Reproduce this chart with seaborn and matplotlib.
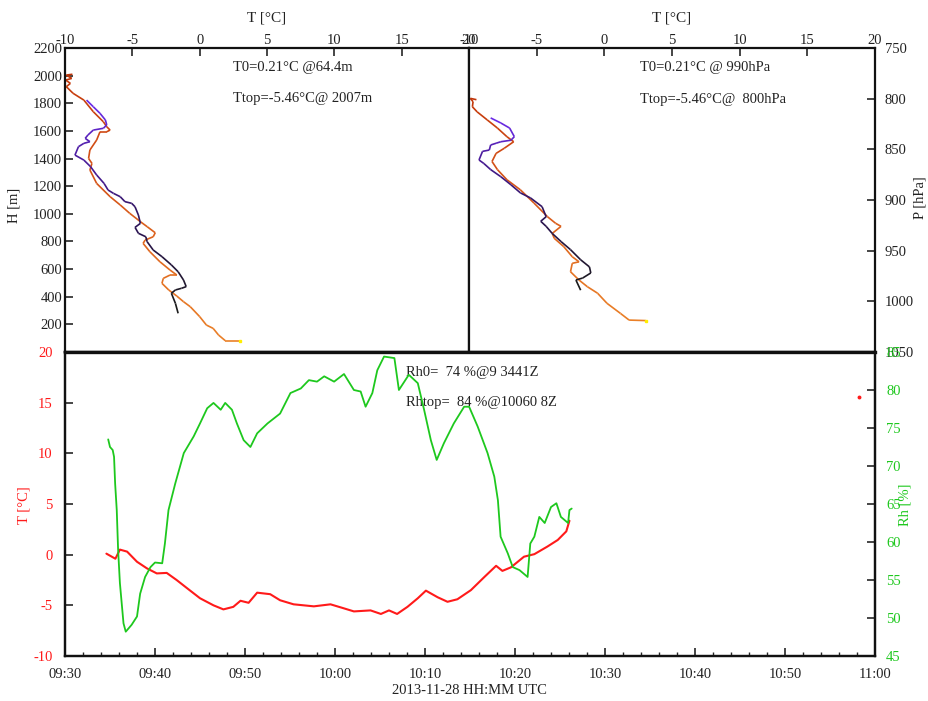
import numpy as np
import pandas as pd
import seaborn as sns
import matplotlib.pyplot as plt
from matplotlib.collections import LineCollection
from matplotlib.colors import LinearSegmentedColormap
from matplotlib.ticker import MultipleLocator

# ---- profile, height coordinates (bottom -> top)
up_T_h = [-1.6, -1.8, -2.1, -1.8, -1.35, -1.0, -1.2, -1.6, -2.1, -2.8, -3.45, -3.9, -4.0, -4.55, -4.8,
          -4.4, -4.55, -4.8, -5.05, -5.55, -5.9, -6.4, -6.8, -7.1, -7.65, -8.1, -8.6, -9.26, -9.0, -8.6,
          -8.15, -8.5, -8.3, -7.9, -7.15, -6.9, -7.0, -7.4, -7.9, -8.4]
up_H = [280, 352, 425, 449, 461, 473, 521, 581, 630, 690, 738, 798, 834, 859, 902,
        931, 991, 1051, 1076, 1088, 1124, 1148, 1172, 1220, 1281, 1341, 1389, 1425, 1486, 1510,
        1522, 1546, 1570, 1606, 1619, 1643, 1679, 1727, 1775, 1823]

dn_T_h = [3.0, 1.9, 1.4, 1.0, 0.5, 0.0, -0.7, -1.2, -1.7, -2.3, -2.8, -2.7, -2.2, -1.7, -2.2, -2.95,
          -3.7, -4.2, -4.05, -3.45, -3.3, -3.9, -4.4, -5.2, -5.9, -6.65, -7.65, -8.15, -8.0, -8.25,
          -8.15, -7.65, -7.4, -6.9, -6.65, -6.9, -7.15, -7.9, -8.6, -9.4, -9.9, -9.6, -9.95, -9.5,
          -9.9, -9.45]
dn_H = [82, 82, 123, 171, 195, 256, 328, 364, 405, 449, 497, 533, 557, 557, 593, 653,
        726, 786, 810, 834, 863, 907, 943, 1004, 1064, 1124, 1220, 1317, 1365, 1401,
        1462, 1534, 1594, 1594, 1606, 1630, 1666, 1739, 1823, 1872, 1920, 1944, 1968, 1980,
        2004, 2010]

# ---- profile, pressure coordinates
up_T_p = [-1.75, -2.1, -1.6, -1.0, -1.1, -1.75, -2.5, -3.2, -3.85, -4.3, -4.7, -4.3, -4.6, -5.45,
          -6.2, -6.9, -7.65, -8.4, -8.9, -9.26, -9.0, -8.5, -8.4, -8.0, -7.65, -6.9, -6.65, -7.0,
          -7.65, -8.4]
up_P = [989, 979, 977, 972, 966, 959, 949, 941, 933, 926, 921, 916.5, 906.6, 898,
        893, 885, 877, 870, 864, 860.5, 852, 850.7, 845.7, 844, 842.5, 841, 837.5, 829,
        824, 819]

dn_T_p = [3.06, 1.83, 1.2, 0.2, -0.5, -1.25, -1.87, -2.5, -2.37, -1.87, -2.37, -3.0, -3.7, -3.85,
          -3.2, -3.6, -4.2, -5.2, -6.2, -7.2, -7.9, -8.3, -8.0, -7.4, -6.7, -7.2, -7.9, -8.65,
          -9.4, -9.75, -9.7, -9.9, -9.45]
dn_P = [1019, 1018.5, 1012, 1002, 992, 985.6, 979, 970.8, 962.5, 961, 956, 946, 937.8, 933,
        926, 923, 916.5, 903, 890, 880, 870, 862, 854, 849, 842.5, 837.5, 829, 821,
        813, 808, 803, 799.7, 801]

# ---- time series (minutes after 09:30)
rh_t = [4.8, 5.0, 5.3, 5.45, 5.57, 5.75, 5.9, 6.1, 6.5, 6.75, 7.4, 8.0, 8.35, 8.9, 9.5, 10.0,
        10.8, 11.1, 11.5, 12.25, 13.2, 14.3, 15.0, 15.8, 16.5, 17.3, 17.8, 18.55, 19.1, 19.85,
        20.6, 21.35, 22.5, 23.9, 25.05, 26.2, 27.1, 28.0, 28.8, 29.9, 31.0, 32.1, 32.85, 33.4,
        34.15, 34.7, 35.45, 36.6, 37.1, 38.2, 39.2, 39.9, 40.65, 41.3, 42.1, 43.2, 44.35, 44.9,
        45.85, 46.95, 47.7, 48.1, 48.4, 49.2, 49.75, 50.5, 51.4, 51.7, 52.15, 52.7, 53.3, 54.0,
        54.6, 55.1, 55.9, 56.05, 56.3]
rh = [73.5, 72.5, 72.1, 71.2, 67.7, 64.2, 59.0, 54.6, 49.3, 48.2, 49.1, 50.2, 53.2, 55.4, 56.7, 57.3,
      57.2, 59.8, 64.2, 67.7, 71.7, 73.9, 75.6, 77.6, 78.3, 77.4, 78.3, 77.4, 75.6, 73.4,
      72.5, 74.3, 75.6, 76.9, 79.6, 80.2, 81.3, 81.1, 81.8, 81.1, 82.1, 80.0, 79.8, 77.8,
      79.6, 82.6, 84.4, 84.2, 80.0, 82.0, 80.9, 77.4, 73.4, 70.8, 73.0, 75.6, 77.8, 77.8,
      75.2, 71.7, 68.6, 65.5, 60.7, 58.5, 56.7, 56.3, 55.4, 59.8, 60.7, 63.3, 62.5, 64.6,
      65.1, 63.3, 62.5, 64.2, 64.4]

temp_t = [4.6, 5.6, 6.1, 6.9, 8.0, 9.1, 10.2, 11.3, 12.4, 13.55, 15.0, 16.5, 17.6, 18.7, 19.5,
          20.4, 21.35, 22.8, 23.9, 25.4, 27.65, 29.5, 31.0, 32.1, 33.95, 35.1, 36.0, 36.9, 38.05,
          39.2, 40.1, 41.4, 42.5, 43.6, 45.1, 46.6, 47.9, 48.6, 49.55, 51.0, 52.15, 53.6, 54.75,
          55.7, 56.05]
temp = [0.1, -0.4, 0.5, 0.3, -0.7, -1.35, -1.85, -1.8, -2.5, -3.3, -4.3, -5.0, -5.4, -5.15, -4.55,
        -4.75, -3.75, -3.9, -4.5, -4.9, -5.1, -4.9, -5.3, -5.6, -5.5, -5.85, -5.5, -5.85, -5.15,
        -4.3, -3.55, -4.2, -4.65, -4.4, -3.5, -2.2, -1.1, -1.6, -1.25, -0.2, 0.05, 0.8, 1.45,
        2.3, 3.35]
stray_t = [88.2]
stray_T = [15.6]

time_labels = ['09:30', '09:40', '09:50', '10:00', '10:10', '10:20', '10:30', '10:40', '10:50', '11:00']

sns.set_style('ticks')
plt.rcParams['font.family'] = ['Liberation Serif', 'DejaVu Serif']
plt.rcParams['axes.linewidth'] = 1.6
plt.rcParams['axes.unicode_minus'] = False

W, H = 929, 701
fig = plt.figure(figsize=(W / 100, H / 100), dpi=100)
ax1 = fig.add_axes([65 / W, 1 - 352 / H, (469 - 65) / W, (352 - 48) / H])
ax2 = fig.add_axes([469 / W, 1 - 352 / H, (875 - 469) / W, (352 - 48) / H])
ax3 = fig.add_axes([65 / W, 1 - 656 / H, (875 - 65) / W, (656 - 352) / H])
ax4 = ax3.twinx()

fs = 10.5
txt = '#222222'
red = '#ff1a1a'
green = '#1ec81e'


def gradient_line(ax, x, y, colors, lw=1.2):
    pts = np.column_stack([x, y]).reshape(-1, 1, 2)
    segs = np.concatenate([pts[:-1], pts[1:]], axis=1)
    cmap = LinearSegmentedColormap.from_list('g', colors)
    lc = LineCollection(segs, cmap=cmap, linewidth=lw)
    lc.set_array(np.linspace(0, 1, len(segs)))
    ax.add_collection(lc)


purple = ['#1a1a1a', '#2a1450', '#4a1c9a', '#6a2ae6']
orange = ['#ea8028', '#e06a20', '#d24e16', '#c03408']

for ax, ut, uy, dt, dy in [(ax1, up_T_h, up_H, dn_T_h, dn_H), (ax2, up_T_p, up_P, dn_T_p, dn_P)]:
    gradient_line(ax, dt, dy, orange)
    gradient_line(ax, ut, uy, purple)
    ax.plot(dt[:1], dy[:1], marker='s', ms=2, color='#ffee00', ls='none')
    ax.set_xlim(-10, 20)
    ax.xaxis.set_major_locator(MultipleLocator(5))
    ax.tick_params(axis='x', direction='in', top=True, bottom=False, labeltop=True,
                   labelbottom=False, length=6, width=1.2, pad=0.5, labelsize=fs, labelcolor=txt)
    ax.set_xlabel('')
    ax.set_ylabel('')

ax1.set_ylim(0, 2200)
ax1.set_yticks(range(200, 2201, 200))
ax1.tick_params(axis='y', direction='in', left=True, right=False, length=6, width=1.2,
                pad=2, labelsize=fs, labelcolor=txt)

ax2.set_ylim(1050, 750)
ax2.set_yticks(range(750, 1051, 50))
ax2.yaxis.tick_right()
ax2.tick_params(axis='y', direction='in', left=False, right=True, labelleft=False, labelright=True,
                length=6, width=1.2, pad=7, labelsize=fs, labelcolor=txt)

# ---- bottom time series
ts_T = pd.DataFrame({'t': temp_t, 'T': temp})
ts_rh = pd.DataFrame({'t': rh_t, 'rh': rh})
sns.lineplot(data=ts_T, x='t', y='T', ax=ax3, color=red, lw=1.5, estimator=None)
sns.lineplot(data=ts_rh, x='t', y='rh', ax=ax4, color=green, lw=1.3, estimator=None)
ax3.plot(stray_t, stray_T, marker='o', ms=1.8, color=red, ls='none')

ax3.set_xlim(0, 90)
ax3.set_ylim(-10, 20)
ax4.set_ylim(45, 85)
ax3.set_xticks(range(0, 91, 10))
ax3.set_xticklabels(time_labels)
ax3.xaxis.set_minor_locator(MultipleLocator(2))
ax3.set_yticks(range(-10, 21, 5))
ax4.set_yticks(range(45, 86, 5))
ax3.set_xlabel('')
ax3.set_ylabel('')
ax4.set_ylabel('')
ax3.tick_params(axis='x', which='major', direction='in', length=6, width=1.2, pad=9,
                labelsize=fs, labelcolor=txt)
ax3.tick_params(axis='x', which='minor', direction='in', length=3, width=1.0)
ax3.tick_params(axis='y', direction='in', length=6, width=1.2, pad=9, labelsize=fs, labelcolor=red)
ax4.tick_params(axis='y', direction='in', length=6, width=1.2, pad=8, labelsize=fs, labelcolor=green)

for ax in (ax1, ax2, ax3, ax4):
    for s in ax.spines.values():
        s.set_visible(True)
        s.set_linewidth(1.6)
        s.set_color('#111111')
ax3.spines['top'].set_linewidth(2.4)

# ---- annotations
ax1.text(2.5, 2062, 'T0=0.21°C @64.4m', fontsize=fs, color=txt, va='center')
ax1.text(2.5, 1831, 'Ttop=-5.46°C@ 2007m', fontsize=fs, color=txt, va='center')
ax2.text(2.6, 769, 'T0=0.21°C @ 990hPa', fontsize=fs, color=txt, va='center')
ax2.text(2.6, 800.5, 'Ttop=-5.46°C@  800hPa', fontsize=fs, color=txt, va='center')
ax3.text(37.9, 18.0, 'Rh0=  74 %@9 3441Z', fontsize=fs, color=txt, va='center')
ax3.text(37.9, 15.0, 'Rhtop=  84 %@10060 8Z', fontsize=fs, color=txt, va='center')

fig.text(267 / W, 1 - 18 / H, 'T [°C]', fontsize=fs + 0.5, color=txt, ha='center', va='center')
fig.text(672 / W, 1 - 18 / H, 'T [°C]', fontsize=fs + 0.5, color=txt, ha='center', va='center')
fig.text(14 / W, 1 - 205 / H, 'H [m]', fontsize=fs, color=txt, rotation=90, ha='center', va='center')
fig.text(920 / W, 1 - 198 / H, 'P [hPa]', fontsize=fs, color=txt, rotation=90, ha='center', va='center')
fig.text(24 / W, 1 - 505 / H, 'T [°C]', fontsize=fs, color=red, rotation=90, ha='center', va='center')
fig.text(905 / W, 1 - 505 / H, 'Rh [%]', fontsize=fs, color=green, rotation=90, ha='center', va='center')
fig.text(469 / W, 1 - 691 / H, '2013-11-28 HH:MM UTC', fontsize=fs, color=txt, ha='center', va='center')

fig.savefig('out.png', dpi=100)
